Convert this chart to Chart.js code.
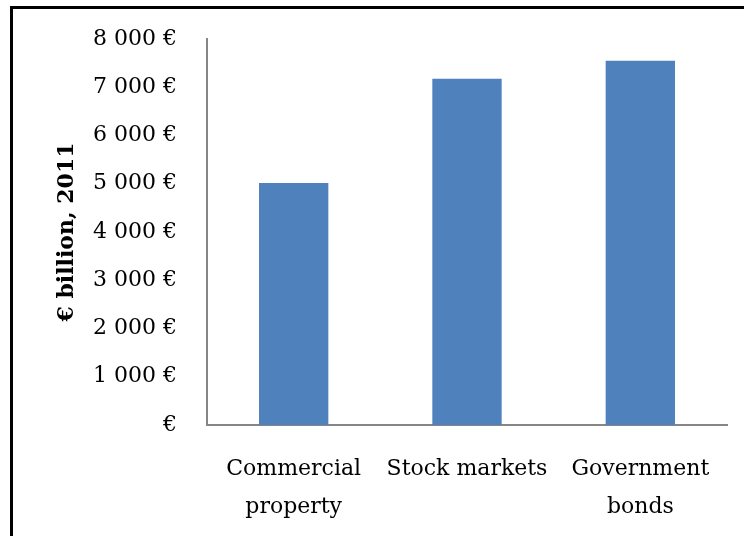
<!DOCTYPE html>
<html>
<head>
<meta charset="utf-8">
<script src="https://cdn.jsdelivr.net/npm/chart.js@4.4.1/dist/chart.umd.min.js"></script>
<style>
    html, body { margin: 0; padding: 0; background: #fff; overflow: hidden; }
    #wrap { position: relative; width: 744px; height: 536px; }
    #frame {
        position: absolute; left: 10px; top: 6px; width: 800px; height: 600px;
        border: 3px solid #000; pointer-events: none;
    }
</style>
</head>
<body>
<div id="wrap">
    <canvas id="chart" width="744" height="536"></canvas>
    <div id="frame"></div>
</div>
<script>
// datos
var categories = [['Commercial', 'property'], ['Stock markets'], ['Government', 'bonds']];
var values = [5015, 7175, 7550];
var yTicks = [0, 1000, 2000, 3000, 4000, 5000, 6000, 7000, 8000];
var yTitle = '€ billion, 2011';

function fmtEuro(v) {
    if (v === 0) return '€';
    var s = String(v).replace(/\B(?=(\d{3})+(?!\d))/g, ' ');
    return s + ' €';
}

document.addEventListener('DOMContentLoaded', function() {
    var serif = "'DejaVu Serif', serif";
    var config = {
        type: 'bar',
        data: {
            labels: categories,
            datasets: [{
                data: values,
                backgroundColor: '#4F81BD',
                borderWidth: 0,
                categoryPercentage: 0.4,
                barPercentage: 1
            }]
        },
        options: {
            responsive: false,
            animation: false,
            layout: { padding: { top: 39, right: 17, left: 0, bottom: 0 } },
            plugins: { legend: { display: false }, tooltip: { enabled: false } },
            scales: {
                x: {
                    grid: { display: false, drawTicks: false },
                    border: { display: true, color: '#868686', width: 2 },
                    ticks: {
                        color: '#000', padding: 26, maxRotation: 0, autoSkip: false,
                        font: { family: serif, size: 22, lineHeight: 1.7 }
                    },
                    afterFit: function(scale) { scale.height = 111; }
                },
                y: {
                    min: 0, max: 8000,
                    afterBuildTicks: function(scale) {
                        scale.ticks = yTicks.map(function(v) { return { value: v }; });
                    },
                    grid: { display: false, drawTicks: false },
                    border: { display: true, color: '#868686', width: 2 },
                    ticks: {
                        color: '#000', padding: 30,
                        font: { family: serif, size: 22 },
                        callback: function(v) { return fmtEuro(v); }
                    },
                    title: {
                        display: true, text: yTitle, color: '#000',
                        font: { family: serif, size: 22, weight: 'bold' },
                        padding: { top: 54, bottom: 0 }
                    },
                    afterFit: function(scale) {
                        scale.width = 207;
                        scale.paddingTop = 0;
                        scale.paddingBottom = 0;
                    }
                }
            }
        }
    };
    new Chart(document.getElementById('chart'), config);
});
</script>
</body>
</html>
